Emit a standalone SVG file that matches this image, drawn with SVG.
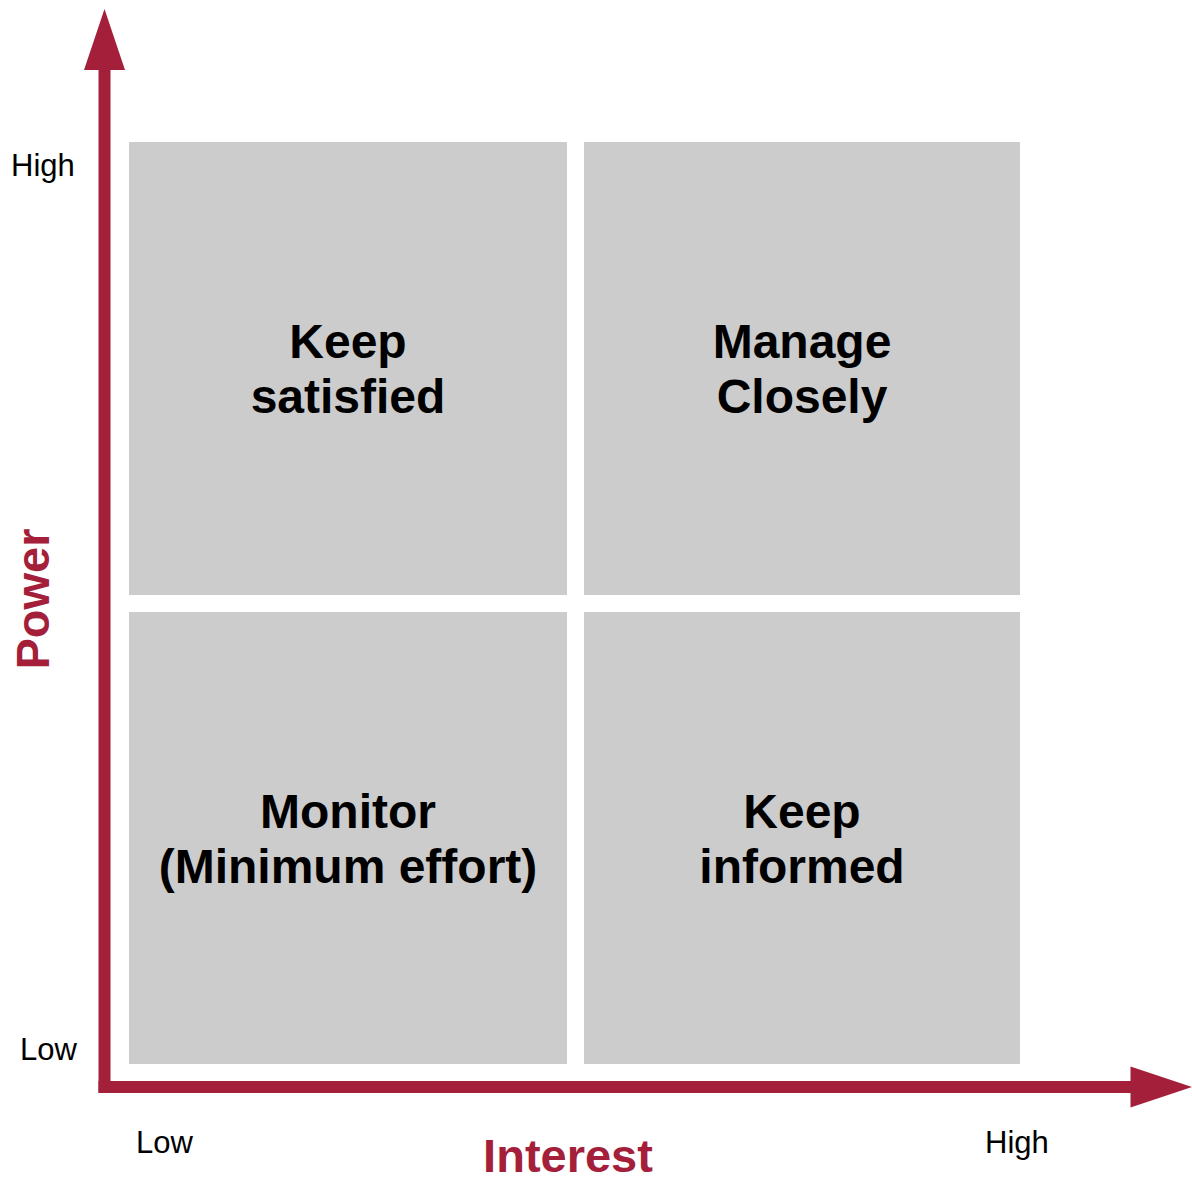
<svg xmlns="http://www.w3.org/2000/svg" width="1192" height="1182" viewBox="0 0 1192 1182">
<style>
.box{fill:#cccccc}
.lbl{font-family:"Liberation Sans",Arial,sans-serif;font-weight:bold;font-size:48px;fill:#000;text-anchor:middle}
.tick{font-family:"Liberation Sans",Arial,sans-serif;font-size:31px;fill:#000}
.axis{font-family:"Liberation Sans",Arial,sans-serif;font-weight:bold;font-size:47px;fill:#A4203A;text-anchor:middle}
.ax{fill:#A4203A}
</style>
<rect width="1192" height="1182" fill="#fff"/>
<g id="keep-satisfied"><rect class="box" x="129" y="142" width="438" height="453"/><text class="lbl" x="348" y="358">Keep</text><text class="lbl" x="348" y="413">satisfied</text></g>
<g id="manage-closely"><rect class="box" x="584" y="142" width="436" height="453"/><text class="lbl" x="802" y="358">Manage</text><text class="lbl" x="802" y="413">Closely</text></g>
<g id="monitor"><rect class="box" x="129" y="612" width="438" height="452"/><text class="lbl" x="348" y="828">Monitor</text><text class="lbl" x="348" y="883">(Minimum effort)</text></g>
<g id="keep-informed"><rect class="box" x="584" y="612" width="436" height="452"/><text class="lbl" x="802" y="828">Keep</text><text class="lbl" x="802" y="883">informed</text></g>
<g id="connectors">
<rect class="ax" x="98.5" y="68" width="12" height="1025"/>
<polygon class="ax" points="84,70 125,70 104.5,9"/>
<rect class="ax" x="98.5" y="1081" width="1034" height="12"/>
<polygon class="ax" points="1130.5,1066.5 1130.5,1107.5 1192,1087"/>
</g>
<text class="tick" x="11" y="176">High</text>
<text class="tick" x="20" y="1060">Low</text>
<text class="tick" x="136" y="1153">Low</text>
<text class="tick" x="985" y="1153">High</text>
<text class="axis" transform="translate(49,599) rotate(-90)">Power</text>
<text class="axis" x="568" y="1172">Interest</text>
</svg>
